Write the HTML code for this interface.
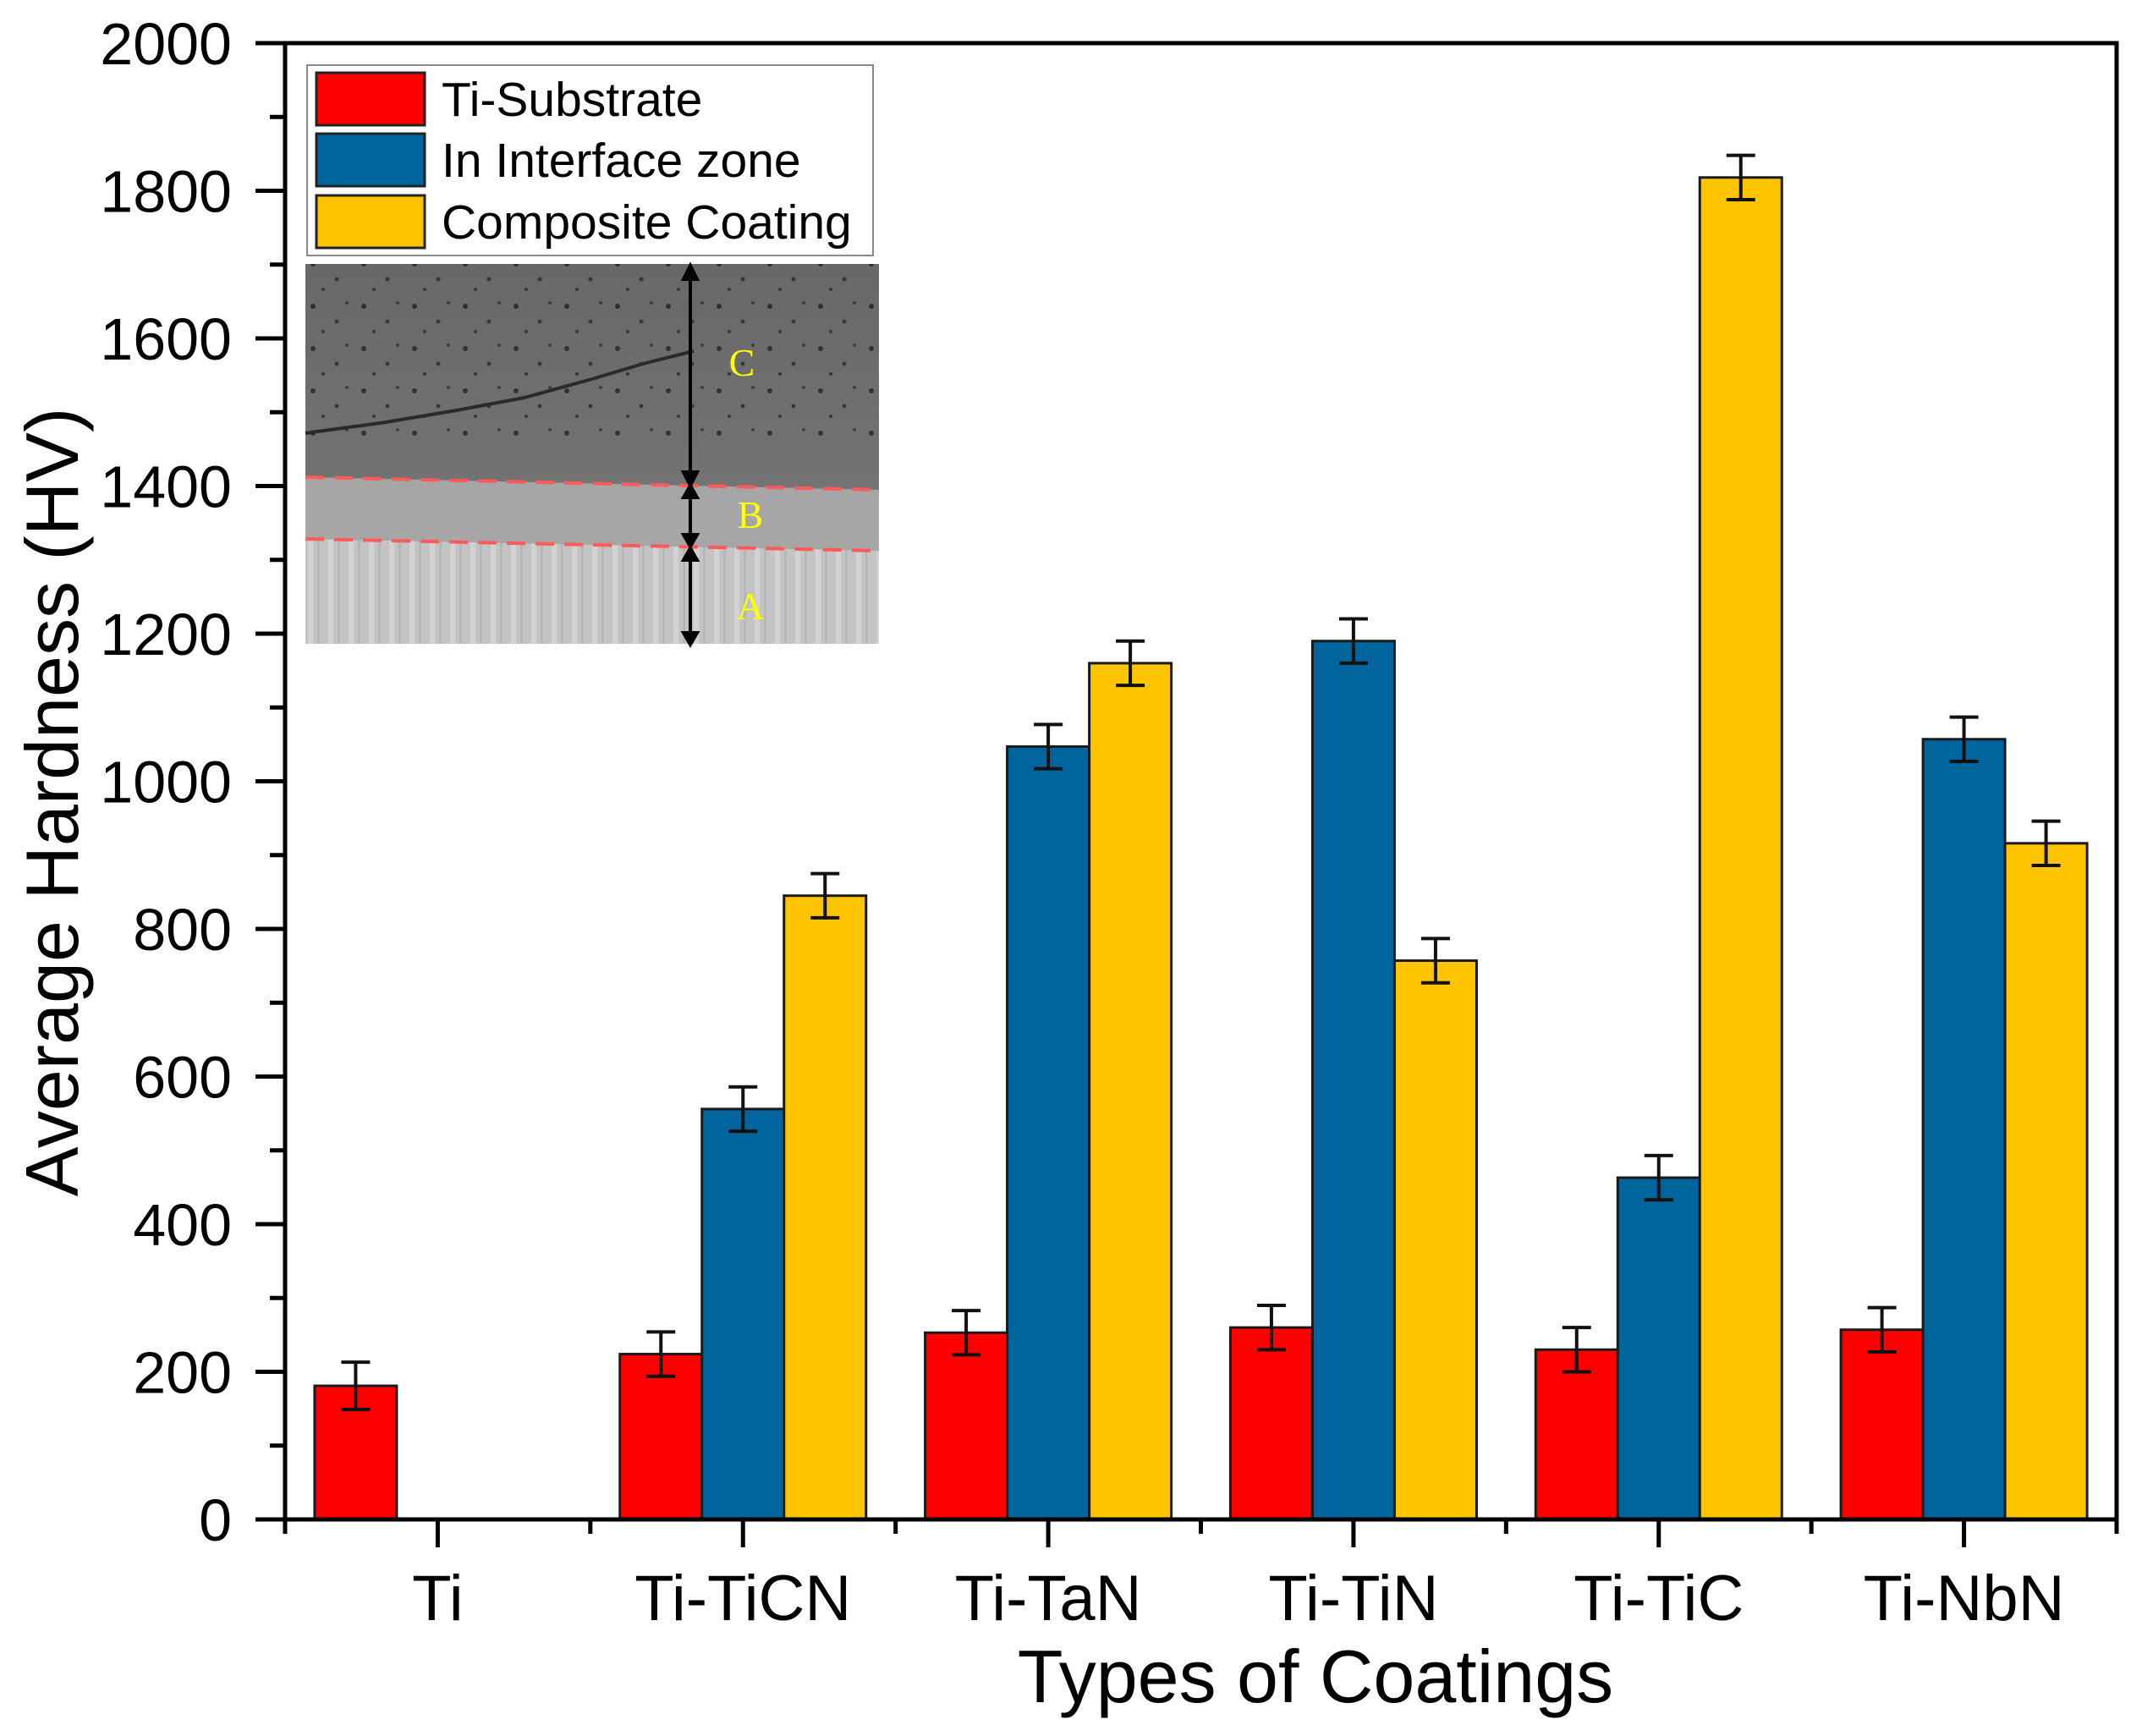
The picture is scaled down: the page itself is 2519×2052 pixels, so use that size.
<!DOCTYPE html>
<html><head><meta charset="utf-8"><style>
html,body{margin:0;padding:0;background:#fff;}
svg{display:block;font-family:"Liberation Sans",Arial,sans-serif;}
</style></head><body>
<svg id="chart" width="2519" height="2052" viewBox="0 0 2519 2052" xmlns="http://www.w3.org/2000/svg">
<defs>
<linearGradient id="semC" x1="0" y1="0" x2="0" y2="1">
<stop offset="0" stop-color="#686868"/><stop offset="0.55" stop-color="#727272"/><stop offset="0.8" stop-color="#858585"/><stop offset="1" stop-color="#959595"/>
</linearGradient>
<pattern id="streaks" width="24" height="130" patternUnits="userSpaceOnUse">
<rect width="24" height="130" fill="#c4c4c4"/><rect x="4" width="6" height="130" fill="#d2d2d2"/><rect x="15" width="3" height="130" fill="#b6b6b6"/>
</pattern>
<pattern id="speck" width="60" height="50" patternUnits="userSpaceOnUse">
<circle cx="10" cy="12" r="3" fill="#222"/><circle cx="38" cy="30" r="2.5" fill="#2a2a2a"/><circle cx="50" cy="8" r="2" fill="#333"/><circle cx="22" cy="42" r="2" fill="#2a2a2a"/>
</pattern>
</defs>
<g id="plot"></g>
<g>
<rect x="363" y="77" width="669" height="225" fill="#fff" stroke="#888" stroke-width="2"/>
<rect x="374" y="86" width="128" height="62" fill="#ff0000" stroke="#222" stroke-width="3"/>
<rect x="374" y="158" width="128" height="62" fill="#00659c" stroke="#222" stroke-width="3"/>
<rect x="374" y="231" width="128" height="62" fill="#ffc400" stroke="#222" stroke-width="3"/>
<text x="522" y="137" font-size="57">Ti-Substrate</text>
<text x="522" y="209" font-size="57">In Interface zone</text>
<text x="522" y="282" font-size="57">Composite Coating</text>
</g>
<g>
<rect x="361" y="312" width="678" height="449" fill="url(#semC)"/>
<rect x="361" y="312" width="678" height="210" fill="url(#speck)" opacity="0.8"/>
<polygon points="361,564 1039,579 1039,651 361,637" fill="#a6a6a6"/>
<polygon points="361,637 1039,651 1039,761 361,761" fill="url(#streaks)"/>
<path d="M361,512 L450,500 L540,485 L620,470 L700,448 L760,430 L820,415" fill="none" stroke="#2a2a2a" stroke-width="4"/>
<line x1="361" y1="564" x2="1039" y2="579" stroke="#ff5a5a" stroke-width="4" stroke-dasharray="22,12"/>
<line x1="361" y1="637" x2="1039" y2="651" stroke="#ff5a5a" stroke-width="4" stroke-dasharray="22,12"/>
<g stroke="#000" stroke-width="4" fill="#000">
<line x1="816" y1="318" x2="816" y2="568"/><polygon points="808,330 816,314 824,330"/><polygon points="808,558 816,574 824,558"/>
<line x1="816" y1="576" x2="816" y2="641"/><polygon points="808,588 816,574 824,588"/><polygon points="808,632 816,646 824,632"/>
<line x1="816" y1="651" x2="816" y2="758"/><polygon points="808,662 816,648 824,662"/><polygon points="808,748 816,762 824,748"/>
</g>
<text x="877" y="444" font-size="46" fill="#ffff00" text-anchor="middle" font-family="Liberation Serif,serif">C</text>
<text x="887" y="624" font-size="46" fill="#ffff00" text-anchor="middle" font-family="Liberation Serif,serif">B</text>
<text x="887" y="732" font-size="46" fill="#ffff00" text-anchor="middle" font-family="Liberation Serif,serif">A</text>
</g>
</svg>
<script>
const categories = ["Ti","Ti-TiCN","Ti-TaN","Ti-TiN","Ti-TiC","Ti-NbN"];
const substrateValues = [181,224,253,260,230,257];
const interfaceValues = [null,556,1047,1190,463,1057];
const coatingValues = [null,845,1160,757,1818,916];
const substrateErr = [32,30,30,30,30,30];
const interfaceErr = [null,30,30,30,30,30];
const coatingErr = [null,30,30,30,30,30];
const yTicks = [0,200,400,600,800,1000,1200,1400,1600,1800,2000];

const L=337,R=2502,T=51,B=1796,YMAX=2000;
const NS="http://www.w3.org/2000/svg";
const g=document.getElementById('plot');
function xs(i){return L+(i+0.5)*(R-L)/categories.length;}
function ys(v){return B-(v/YMAX)*(B-T);}
function mk(tag,attrs,parent){const e=document.createElementNS(NS,tag);for(const k in attrs)e.setAttribute(k,attrs[k]);(parent||g).appendChild(e);return e;}
const barW=97;
const series=[{vals:substrateValues,err:substrateErr,color:"#ff0000",off:-1,name:"substrate"},
{vals:interfaceValues,err:interfaceErr,color:"#00659c",off:0,name:"interface"},
{vals:coatingValues,err:coatingErr,color:"#ffc400",off:1,name:"coating"}];
series.forEach(s=>{
  s.vals.forEach((v,i)=>{
    if(v===null)return;
    const cx=xs(i)+s.off*barW;
    const r=mk('rect',{x:cx-barW/2,y:ys(v),width:barW,height:B-ys(v),fill:s.color,stroke:"#1a1a1a","stroke-width":3});
    
    
    const e=s.err[i];
    const eg=mk('g',{stroke:"#111","stroke-width":4});
    
    
    mk('line',{x1:cx,x2:cx,y1:ys(v+e),y2:ys(v-e)},eg);
    mk('line',{x1:cx-17,x2:cx+17,y1:ys(v+e),y2:ys(v+e)},eg);
    mk('line',{x1:cx-17,x2:cx+17,y1:ys(v-e),y2:ys(v-e)},eg);
  });
});
const fr=mk('rect',{x:L,y:T,width:R-L,height:B-T,fill:"none",stroke:"#000","stroke-width":5});


yTicks.forEach(v=>{
  mk('line',{x1:L-35,x2:L,y1:ys(v),y2:ys(v),stroke:"#000","stroke-width":5});
  const t=mk('text',{x:274,y:ys(v)+25,"font-size":70,"text-anchor":"end"});
  t.textContent=v;
  
  
  if(v<YMAX) mk('line',{x1:L-18,x2:L,y1:ys(v+100),y2:ys(v+100),stroke:"#000","stroke-width":5});
});
categories.forEach((c,i)=>{
  const x=xs(i);
  mk('line',{x1:x,x2:x,y1:B,y2:B+33,stroke:"#000","stroke-width":5});
  mk('line',{x1:x-(R-L)/12,x2:x-(R-L)/12,y1:B,y2:B+17,stroke:"#000","stroke-width":5});
  const t=mk('text',{x:x,y:1915,"font-size":76,"text-anchor":"middle"});
  t.textContent=c;
  
  
});
mk('line',{x1:R,x2:R,y1:B,y2:B+17,stroke:"#000","stroke-width":5});
const xt=mk('text',{x:1555,y:2012,"font-size":88,"text-anchor":"middle"});
xt.textContent="Types of Coatings";


const yt=mk('text',{x:0,y:0,"font-size":88,"text-anchor":"middle",transform:"translate(92,948) rotate(-90)"});
yt.textContent="Average Hardness (HV)";


</script>
</body></html>
